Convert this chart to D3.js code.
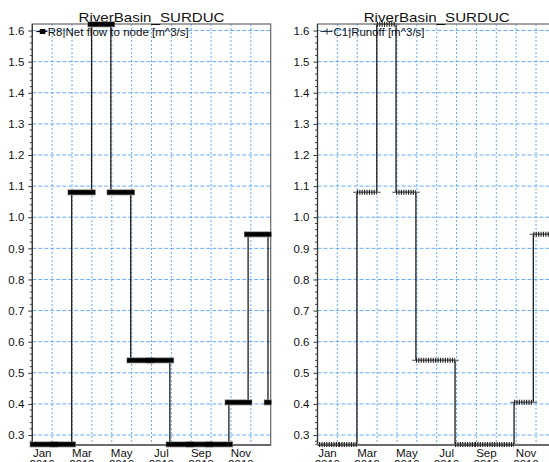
<!DOCTYPE html>
<html>
<head>
<meta charset="utf-8">
<script src="https://cdn.jsdelivr.net/npm/d3@7"></script>
<style>
  html, body { margin: 0; padding: 0; background: #fff; }
  svg { display: block; }
  text { font-family: "Liberation Sans", Arial, sans-serif; fill: #111; }
</style>
</head>
<body>
<svg id="chart" width="549" height="462"></svg>
<script>
// ---------------- data ----------------
const monthStarts = ["2019-01-01","2019-02-01","2019-03-01","2019-04-01","2019-05-01","2019-06-01",
                     "2019-07-01","2019-08-01","2019-09-01","2019-10-01","2019-11-01","2019-12-01","2020-01-01"];
const netFlow = [0.27, 0.27, 1.08, 1.62, 1.08, 0.54, 0.54, 0.27, 0.27, 0.27, 0.405, 0.945, 0.405];
const runoff  = [0.27, 0.27, 1.08, 1.62, 1.08, 0.54, 0.54, 0.27, 0.27, 0.27, 0.405, 0.945, 0.405];
const gridMonths = ["Jan","Feb","Mar","Apr","May","Jun","Jul","Aug","Sep","Oct","Nov","Dec"];
const xTickLabels = ["Jan","Mar","May","Jul","Sep","Nov"];
const tickYear = "2019";
const yTicks = [0.3,0.4,0.5,0.6,0.7,0.8,0.9,1.0,1.1,1.2,1.3,1.4,1.5,1.6];
const titleText = "RiverBasin_SURDUC";
const legendNet = "R8|Net flow to node [m^3/s]";
const legendRunoff = "C1|Runoff [m^3/s]";

// ---------------- drawing ----------------
const svg = d3.select("#chart");
const parse = d3.timeParse("%Y-%m-%d");
const dates = monthStarts.map(parse);
const W = 238.4, plotTop = 24, plotBottom = 445;
const y = d3.scaleLinear().domain([0.268, 1.621]).range([plotBottom, plotTop]);
const gridColor = "#4f9ff0";

function panel(ox, values, kind, legendText, legendLen) {
  const g = svg.append("g");
  const x = d3.scaleTime()
    .domain([new Date(2018, 11, 29, 14), new Date(2020, 0, 5, 5)])
    .range([ox, ox + W]);
  const band = d3.scaleBand().domain(gridMonths).range([ox, ox + W]);

  // horizontal gridlines
  g.append("g").selectAll("line").data(yTicks).join("line")
    .attr("x1", ox).attr("x2", ox + W)
    .attr("y1", d => y(d)).attr("y2", d => y(d))
    .attr("stroke", gridColor).attr("stroke-width", 1)
    .attr("stroke-dasharray", "4,2").attr("opacity", 0.85);
  // vertical gridlines
  g.append("g").selectAll("line").data(gridMonths.slice(1)).join("line")
    .attr("x1", d => band(d)).attr("x2", d => band(d))
    .attr("y1", plotTop).attr("y2", plotBottom)
    .attr("stroke", gridColor).attr("stroke-width", 1)
    .attr("stroke-dasharray", "2,2").attr("opacity", 0.85);

  // frame
  g.append("rect").attr("x", ox).attr("y", plotTop).attr("width", W).attr("height", plotBottom - plotTop)
    .attr("fill", "none").attr("stroke", "#666").attr("stroke-width", 1.2);
  g.append("line").attr("x1", ox).attr("x2", ox).attr("y1", plotTop).attr("y2", plotBottom)
    .attr("stroke", "#333").attr("stroke-width", 1.2);
  g.append("line").attr("x1", ox).attr("x2", ox + W).attr("y1", plotBottom).attr("y2", plotBottom)
    .attr("stroke", "#333").attr("stroke-width", 1.2);

  // y axis
  const ax = g.append("g").attr("transform", `translate(${ox},0)`)
    .call(d3.axisLeft(y).tickValues(yTicks).tickSize(4).tickPadding(4)
      .tickFormat(d3.format(".1f")));
  ax.select(".domain").remove();
  ax.selectAll(".tick line").attr("stroke", "#333");
  ax.selectAll(".tick text").attr("font-size", "11.5px")
    .attr("font-family", "'Liberation Sans', Arial, sans-serif").attr("fill", "#222");
  // minor ticks
  const minor = d3.range(0.28, 1.62, 0.02).filter(v => Math.abs(v * 10 - Math.round(v * 10)) > 0.01);
  g.append("g").selectAll("line").data(minor).join("line")
    .attr("x1", ox - 2.5).attr("x2", ox).attr("y1", d => y(d)).attr("y2", d => y(d))
    .attr("stroke", "#444").attr("stroke-width", 1);

  // x labels
  const xl = g.append("g");
  xTickLabels.forEach(m => {
    const cx = band(m) + band.bandwidth() / 2;
    const t = xl.append("text").attr("x", cx).attr("y", 457)
      .attr("text-anchor", "middle").attr("font-size", "11.5px");
    t.append("tspan").attr("x", cx).text(m);
    t.append("tspan").attr("x", cx).attr("dy", 11).text(tickYear);
  });

  // title
  g.append("text").attr("x", ox + W / 2).attr("y", 21.5).attr("text-anchor", "middle")
    .attr("font-size", "13.5px").attr("textLength", 146).attr("lengthAdjust", "spacingAndGlyphs")
    .text(titleText);

  // step line
  const pts = dates.map((d, i) => [d, values[i]]);
  const line = d3.line().x(d => x(d[0])).y(d => y(d[1])).curve(d3.curveStepAfter);
  g.append("path").datum(pts).attr("d", line)
    .attr("fill", "none").attr("stroke", "#1c1c1c").attr("stroke-width", 1.3);

  // marker bars (dense daily markers rendered as continuous runs)
  const segs = pts.map((p, i) => ({
    x1: x(p[0]),
    x2: i < pts.length - 1 ? x(pts[i + 1][0]) : x(p[0]),
    v: p[1]
  }));
  const mg = g.append("g");
  if (kind === "square") {
    mg.selectAll("line.u").data(segs).join("line").attr("class", "u")
      .attr("x1", d => d.x1 - 4.2).attr("x2", d => Math.min(d.x2 + 4.2, ox + W + 1))
      .attr("y1", d => y(d.v)).attr("y2", d => y(d.v))
      .attr("stroke", "#8a8a8a").attr("stroke-width", 6);
    mg.selectAll("line.b").data(segs).join("line").attr("class", "b")
      .attr("x1", d => d.x1 - 3.6).attr("x2", d => Math.min(d.x2 + 3.6, ox + W + 0.5))
      .attr("y1", d => y(d.v)).attr("y2", d => y(d.v))
      .attr("stroke", "#000").attr("stroke-width", 4.4);
  } else {
    mg.selectAll("line.h").data(segs).join("line").attr("class", "h")
      .attr("x1", d => d.x1 - 3.8).attr("x2", d => d.x2 + 3.8)
      .attr("y1", d => y(d.v)).attr("y2", d => y(d.v))
      .attr("stroke", "#777").attr("stroke-width", 1.4);
    mg.selectAll("line.v").data(segs.filter(d => d.x2 > d.x1)).join("line").attr("class", "v")
      .attr("x1", d => d.x1).attr("x2", d => d.x2)
      .attr("y1", d => y(d.v)).attr("y2", d => y(d.v))
      .attr("stroke", "#1e1e1e").attr("stroke-width", 5)
      .attr("stroke-dasharray", "1.1,1.3");
  }

  // legend
  const ly = 31.5;
  if (kind === "square") {
    g.append("line").attr("x1", ox + 4).attr("x2", ox + 15).attr("y1", ly).attr("y2", ly)
      .attr("stroke", "#000").attr("stroke-width", 1.2);
    g.append("rect").attr("x", ox + 7.5).attr("y", ly - 2.5).attr("width", 5.5).attr("height", 5)
      .attr("fill", "#000");
    g.append("text").attr("x", ox + 15.5).attr("y", ly + 4).attr("font-size", "11.5px")
      .attr("textLength", legendLen).attr("lengthAdjust", "spacingAndGlyphs").text(legendText);
  } else {
    g.append("line").attr("x1", ox + 3).attr("x2", ox + 15).attr("y1", ly).attr("y2", ly)
      .attr("stroke", "#333").attr("stroke-width", 1);
    g.append("line").attr("x1", ox + 9.5).attr("x2", ox + 9.5).attr("y1", ly - 3).attr("y2", ly + 3)
      .attr("stroke", "#333").attr("stroke-width", 1);
    g.append("text").attr("x", ox + 16).attr("y", ly + 4).attr("font-size", "11.5px")
      .attr("textLength", legendLen).attr("lengthAdjust", "spacingAndGlyphs").text(legendText);
  }
}

panel(32.3, netFlow, "square", legendNet, 141);
panel(317.5, runoff, "plus", legendRunoff, 91);
</script>
</body>
</html>
